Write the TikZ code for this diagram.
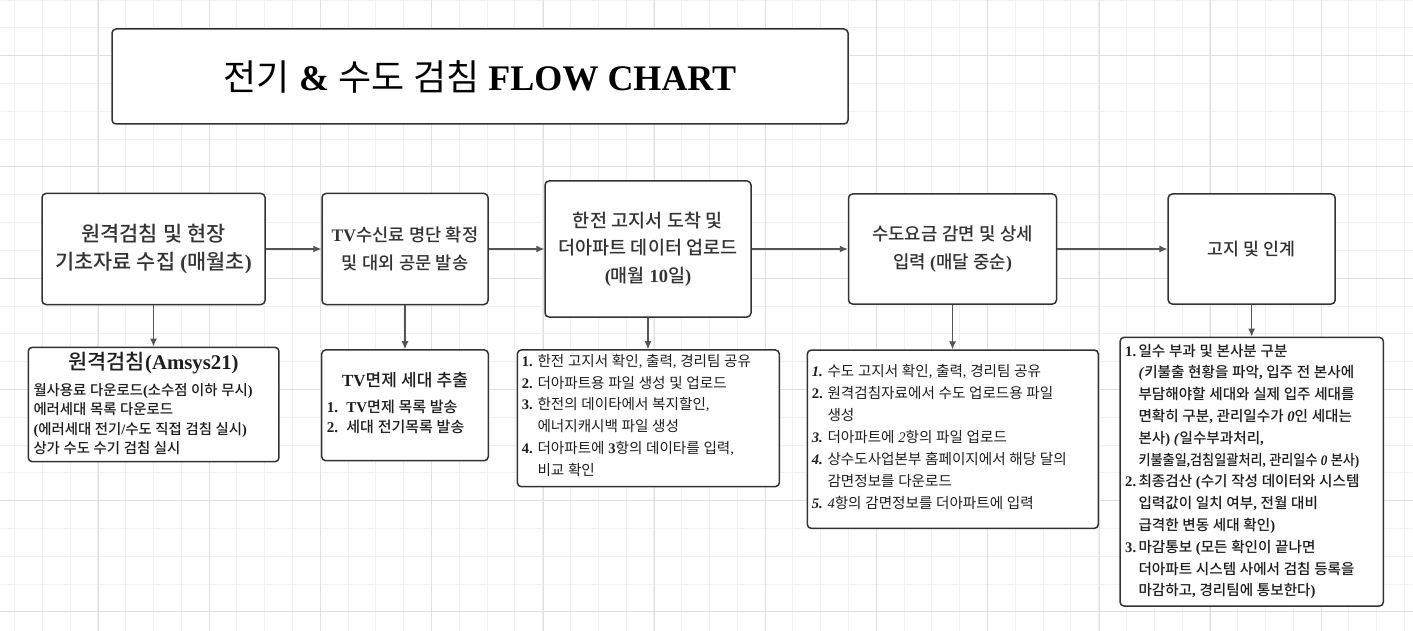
\documentclass[tikz,border=0pt]{standalone}
\usepackage{fontspec}
\usepackage{graphicx}
\setmainfont{Liberation Serif}
\newfontfamily\krfont[BoldFont={Noto Sans CJK KR Medium}]{Noto Sans CJK KR}
\usetikzlibrary{arrows.meta}
\XeTeXinterchartokenstate=1
\newXeTeXintercharclass\krclass
\newcount\hcc
\hcc="AC00
\loop
  \XeTeXcharclass\hcc=\krclass
  \advance\hcc by 1
\ifnum\hcc<"D7A4 \repeat
\XeTeXinterchartoks 0 \krclass = {\krfont}
\XeTeXinterchartoks 4095 \krclass = {\krfont}
\XeTeXinterchartoks \krclass 0 = {\rmfamily}
\XeTeXinterchartoks \krclass 4095 = {\rmfamily}
\definecolor{bdr}{HTML}{333333}
\definecolor{arr}{HTML}{555555}
\definecolor{mtc}{HTML}{333333}
\definecolor{dtc}{HTML}{1E1E1E}
\definecolor{gmincol}{HTML}{F0F0F0}
\definecolor{gmajcol}{HTML}{E0E0E0}
\newcommand\nb[1]{\makebox[15.6pt][l]{\bfseries #1}}
\newcommand\nbs[1]{\makebox[13.3pt][l]{\bfseries #1}}
\newcommand\ind{\hspace*{15.6pt}}
\newcommand\inds{\hspace*{13.3pt}}
\begin{document}
\begin{tikzpicture}[x=1pt,y=-1pt,
  box/.style={draw=bdr, line width=1.5pt, rounded corners=4pt, fill=white, inner sep=0pt},
  conn/.style={draw=arr, line width=1.1pt, -{Latex[length=8pt,width=7pt]}},
  mtxt/.style={align=center, text=mtc},
  dtxt/.style={align=left, text=dtc, anchor=base west, inner sep=0pt},
  dttl/.style={align=center, text=dtc, inner sep=0pt},
  gmin/.style={draw=gmincol, line width=0.8pt},
  gmaj/.style={draw=gmajcol, line width=1pt}]
\useasboundingbox (0,0) rectangle (1413,631);
\fill[white] (0,0) rectangle (1413,631);
% grid
\foreach \i in {0,...,50} { \draw[gmin] ({14.3+27.8*\i},0) -- ({14.3+27.8*\i},631); }
\foreach \i in {0,...,22} { \draw[gmin] (0,{0.1+27.8*\i}) -- (1413,{0.1+27.8*\i}); }
\foreach \i in {0,...,11} { \draw[gmaj] ({98.3+111.2*\i},0) -- ({98.3+111.2*\i},631); }
\foreach \i in {0,...,5} { \draw[gmaj] (0,{55.7+111.2*\i}) -- (1413,{55.7+111.2*\i}); }
% title
\node[box, minimum width=736pt, minimum height=95pt, text=black,
  font=\fontsize{36}{40}\selectfont] (title) at (480,76.5)
  {전기 \textbf{\&} 수도 검침 \textbf{FLOW CHART}};
% main boxes
\node[box, mtxt, minimum width=223pt, minimum height=111pt,
  font=\fontsize{20.8}{28.4}\selectfont\bfseries] (b1) at (153.5,249)
  {원격검침 및 현장\\기초자료 수집 (매월초)};
\node[box, mtxt, minimum width=166pt, minimum height=111pt,
  font=\fontsize{17.6}{27.7}\selectfont\bfseries] (b2) at (405,249)
  {TV수신료 명단 확정\\및 대외 공문 발송};
\node[box, mtxt, minimum width=206pt, minimum height=136pt,
  font=\fontsize{18.5}{27.5}\selectfont\bfseries] (b3) at (648,249)
  {한전 고지서 도착 및\\더아파트 데이터 업로드\\(매월 10일)};
\node[box, mtxt, minimum width=208pt, minimum height=110pt,
  font=\fontsize{17.8}{28}\selectfont\bfseries] (b4) at (952.5,249)
  {수도요금 감면 및 상세\\입력 (매달 중순)};
\node[box, mtxt, minimum width=167pt, minimum height=110pt,
  font=\fontsize{17.3}{24}\selectfont\bfseries] (b5) at (1251.7,249)
  {고지 및 인계};
% detail boxes
\node[box, minimum width=250.7pt, minimum height=114.4pt] (d1) at (153.6,404.5) {};
\node[box, minimum width=166.6pt, minimum height=110.7pt] (d2) at (405,405.3) {};
\node[box, minimum width=262pt, minimum height=136.7pt] (d3) at (648.3,418.3) {};
\node[box, minimum width=291pt, minimum height=178.3pt] (d4) at (952.8,439.2) {};
\node[box, minimum width=263.3pt, minimum height=268.7pt] (d5) at (1251.7,471.7) {};
% connectors
\draw[conn] (b1) -- (b2);
\draw[conn] (b2) -- (b3);
\draw[conn] (b3) -- (b4);
\draw[conn] (b4) -- (b5);
\draw[conn] (b1.south) -- (b1.south |- d1.north);
\draw[conn] (b2.south) -- (b2.south |- d2.north);
\draw[conn] (b3.south) -- (b3.south |- d3.north);
\draw[conn] (b4.south) -- (b4.south |- d4.north);
\draw[conn] (b5.south) -- (b5.south |- d5.north);
% detail texts (anchor = baseline of the last line)
\node[dttl, font=\fontsize{20.8}{24}\selectfont\bfseries] (t1h) at (153.6,362.7) {원격검침(Amsys21)};
\node[dtxt, font=\fontsize{14.4}{19.5}\selectfont\bfseries] (t1) at (33.3,453.8)
  {월사용료 다운로드(소수점 이하 무시)\\
   에러세대 목록 다운로드\\
   (에러세대 전기/수도 직접 검침 실시)\\
   상가 수도 수기 검침 실시};
\node[dttl, font=\fontsize{17}{20}\selectfont\bfseries] (t2h) at (405,380) {TV면제 세대 추출};
\node[dtxt, font=\fontsize{15}{20.6}\selectfont\bfseries] (t2) at (326.7,432.8)
  {1.\hspace{0.55em}TV면제 목록 발송\\
   2.\hspace{0.55em}세대 전기목록 발송};
\node[dtxt, font=\fontsize{14.6}{21.9}\selectfont] (t3) at (521.7,475.6)
  {\nb{1.}한전 고지서 확인, 출력, 경리팀 공유\\
   \nb{2.}더아파트용 파일 생성 및 업로드\\
   \nb{3.}한전의 데이타에서 복지할인,\\
   \ind 에너지캐시백 파일 생성\\
   \nb{4.}더아파트에 \textbf{3}항의 데이타를 입력,\\
   \ind 비교 확인};
\node[dtxt, font=\fontsize{14.6}{22.1}\selectfont] (t4) at (811.7,508.7)
  {\nb{\textit{1.}}수도 고지서 확인, 출력, 경리팀 공유\\
   \nb{2.}원격검침자료에서 수도 업로드용 파일\\
   \ind 생성\\
   \nb{\textit{3.}}더아파트에 \textit{2}항의 파일 업로드\\
   \nb{\textit{4.}}상수도사업본부 홈페이지에서 해당 달의\\
   \ind 감면정보를 다운로드\\
   \nb{\textit{5.}}\textit{4}항의 감면정보를 더아파트에 입력};
\node[dtxt, font=\fontsize{14.6}{21.8}\selectfont\bfseries] (t5) at (1125,595.9)
  {\nbs{1.}일수 부과 및 본사분 구분\\
   \inds\textit{(}키불출 현황을 파악, 입주 전 본사에\\
   \inds 부담해야할 세대와 실제 입주 세대를\\
   \inds 면확히 구분, 관리일수가 \textit{0}인 세대는\\
   \inds 본사) \textit{(}일수부과처리,\\
   \inds\scalebox{0.9}[1]{키불출일,검침일괄처리, 관리일수 \textit{0} 본사)}\\
   \nbs{2.}최종검산 (수기 작성 데이터와 시스템\\
   \inds 입력값이 일치 여부, 전월 대비\\
   \inds 급격한 변동 세대 확인)\\
   \nbs{3.}마감통보 (모든 확인이 끝나면\\
   \inds 더아파트 시스템 사에서 검침 등록을\\
   \inds 마감하고, 경리팀에 통보한다)};
\end{tikzpicture}
\end{document}
